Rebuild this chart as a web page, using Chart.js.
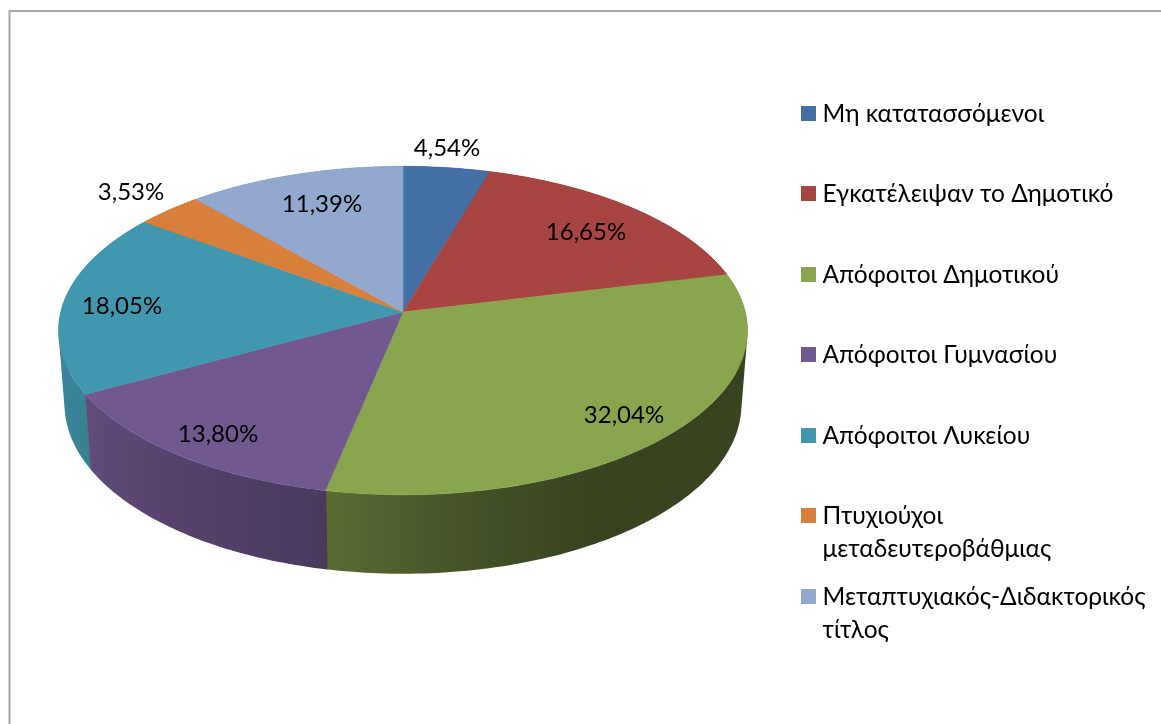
<!DOCTYPE html>
<html><head><meta charset="utf-8">
<script src="https://cdn.jsdelivr.net/npm/chart.js@4"></script>
<style>html,body{margin:0;padding:0;background:#fff}canvas{display:block}</style>
</head><body>
<div style="position:relative;width:1161px;height:724px"><canvas id="c" width="1161" height="724"></canvas></div>
<script>
const categories=["Μη κατατασσόμενοι","Εγκατέλειψαν το Δημοτικό","Απόφοιτοι Δημοτικού","Απόφοιτοι Γυμνασίου","Απόφοιτοι Λυκείου","Πτυχιούχοι μεταδευτεροβάθμιας","Μεταπτυχιακός-Διδακτορικός τίτλος"];
const values=[4.54,16.65,32.04,13.80,18.05,3.53,11.39];
const valueLabels=["4,54%","16,65%","32,04%","13,80%","18,05%","3,53%","11,39%"];
const colors=["#4470a6","#a84442","#89a54d","#71588f","#4197ae","#d8803b","#93a8cf"];

const FONT='Lato, "Noto Sans", sans-serif';
const PERSP=0.1125;
// perspective projection of a unit-disc point, as a fraction of the pie radius
const TOP={dy:-31.5,rx:1,ry:0.4768};
const BOT={dy:42,rx:0.9826,ry:0.4928};
function project(el,face,theta,k=1){
  const R=el.outerRadius,u=k*Math.sin(theta),v=k*Math.cos(theta),den=1+PERSP*v;
  const a=face.rx*R*Math.sqrt(1-PERSP*PERSP),b=face.ry*R,d=PERSP*b;
  return [el.x+a*u/den, el.y+face.dy-(b*v+d)/den];
}
function shade(hex,f){
  const n=parseInt(hex.slice(1),16);
  return `rgb(${Math.round((n>>16)*f)},${Math.round(((n>>8)&255)*f)},${Math.round((n&255)*f)})`;
}
const stops=[[0,.41],[150,.41],[170,.5],[191,.65],[241,.86],[270,.9],[360,.9]];
function sideFactor(deg){
  for(let i=1;i<stops.length;i++) if(deg<=stops[i][0]){
    const [a,fa]=stops[i-1],[b,fb]=stops[i];
    return fa+(fb-fa)*(deg-a)/(b-a);
  }
  return .9;
}
class Arc3D extends Chart.ArcElement{
  drawSide(ctx,color){
    const s=this.startAngle+Math.PI/2-0.002,e=this.endAngle+Math.PI/2+0.002,n=Math.max(2,Math.ceil((e-s)/(Math.PI/180)));
    const x0=project(this,BOT,Math.PI*1.5)[0]-12,x1=project(this,BOT,Math.PI/2)[0]+12;
    const g=ctx.createLinearGradient(x0,0,x1,0);
    for(let deg=90;deg<=270;deg+=5){
      const px=project(this,TOP,deg*Math.PI/180)[0];
      g.addColorStop(Math.min(1,Math.max(0,(px-x0)/(x1-x0))),shade(color,sideFactor(deg)));
    }
    // all strips go into a single path, so no anti-aliased seams appear between them
    ctx.beginPath();
    for(let i=0;i<n;i++){
      const t0=s+(e-s)*i/n,t1=s+(e-s)*(i+1)/n;
      let p=[project(this,TOP,t0),project(this,TOP,t1),project(this,BOT,t1),project(this,BOT,t0)];
      let area=0;
      p.forEach((q,j)=>{const r=p[(j+1)%4];area+=q[0]*r[1]-r[0]*q[1];});
      if(area<0)p=p.reverse();
      p.forEach((q,j)=>j?ctx.lineTo(q[0],q[1]):ctx.moveTo(q[0],q[1]));
      ctx.closePath();
    }
    ctx.fillStyle=g;ctx.fill();
  }
  draw(ctx){
    const s=this.startAngle+Math.PI/2,e=this.endAngle+Math.PI/2,n=Math.ceil((e-s)/(Math.PI/180));
    ctx.beginPath();
    let q=project(this,TOP,0,0);ctx.moveTo(q[0],q[1]);
    for(let i=0;i<=n;i++){q=project(this,TOP,s+(e-s)*i/n);ctx.lineTo(q[0],q[1]);}
    ctx.closePath();
    ctx.fillStyle=this.options.backgroundColor;ctx.strokeStyle=this.options.backgroundColor;ctx.lineWidth=0.5;ctx.fill();ctx.stroke();
  }
}
Arc3D.id='arc3d';
Arc3D.defaults=Chart.ArcElement.defaults;
class Pie3D extends Chart.PieController{
  draw(){
    const ctx=this.chart.ctx,els=this.getMeta().data,bg=this.getDataset().backgroundColor;
    const depth=el=>Math.cos((el.startAngle+el.endAngle)/2+Math.PI/2);
    const order=els.map((el,i)=>i).sort((a,b)=>depth(els[b])-depth(els[a]));
    ctx.save();
    order.forEach(i=>els[i].drawSide(ctx,bg[i]));
    ctx.restore();
    super.draw();
  }
}
Pie3D.id='pie3d';
Pie3D.defaults={...Chart.PieController.defaults,dataElementType:'arc3d'};
Pie3D.overrides=Chart.PieController.overrides;
Chart.register(Arc3D,Pie3D);

const framePlugin={id:'frame',beforeDraw(ch){
  const c=ch.ctx;c.save();c.fillStyle='#fff';c.fillRect(0,0,1161,724);
  c.strokeStyle='#a6a6a6';c.lineWidth=2;c.beginPath();c.moveTo(9.5,724);c.lineTo(9.5,11);c.lineTo(1161,11);c.stroke();c.restore();
}};
const labelPlugin={id:'labels3d',afterDatasetsDraw(ch,args,o){
  const c=ch.ctx;c.save();c.font=o.size+'px '+FONT;c.fillStyle='#000';c.textAlign='center';c.textBaseline='alphabetic';
  valueLabels.forEach((t,i)=>c.fillText(t,o.at[i][0],o.at[i][1]));c.restore();
}};
const legendPlugin={id:'sideLegend',afterDraw(ch,args,o){
  const c=ch.ctx;c.save();c.font=o.size+'px '+FONT;c.textBaseline='alphabetic';c.textAlign='left';
  categories.forEach((name,i)=>{
    c.fillStyle=colors[i];c.fillRect(o.boxX,o.ys[i]-16,15,15);
    const lines=[];let cur='';
    name.split(' ').forEach(w=>{const t=cur?cur+' '+w:w;if(c.measureText(t).width>o.maxW&&cur){lines.push(cur);cur=w;}else cur=t;});
    lines.push(cur);
    c.fillStyle='#000';
    lines.forEach((l,j)=>c.fillText(l,o.textX,o.ys[i]+j*o.lineH));
  });
  c.restore();
}};
new Chart(document.getElementById('c'),{
  type:'pie3d',
  data:{labels:categories,datasets:[{data:values,backgroundColor:colors,borderWidth:0}]},
  options:{responsive:false,animation:false,
    layout:{padding:{left:58.5,right:413.5,top:17,bottom:17}},
    plugins:{legend:{display:false},tooltip:{enabled:false},
      labels3d:{size:24,at:[[447,156],[586,240],[624,423],[218,442],[122,314],[131,200],[322,212]]},
      sideLegend:{size:24.5,boxX:801,textX:822.5,maxW:328,lineH:33,ys:[122,202,283,363,444,524,605]}
    }},
  plugins:[framePlugin,labelPlugin,legendPlugin]
});
</script></body></html>
